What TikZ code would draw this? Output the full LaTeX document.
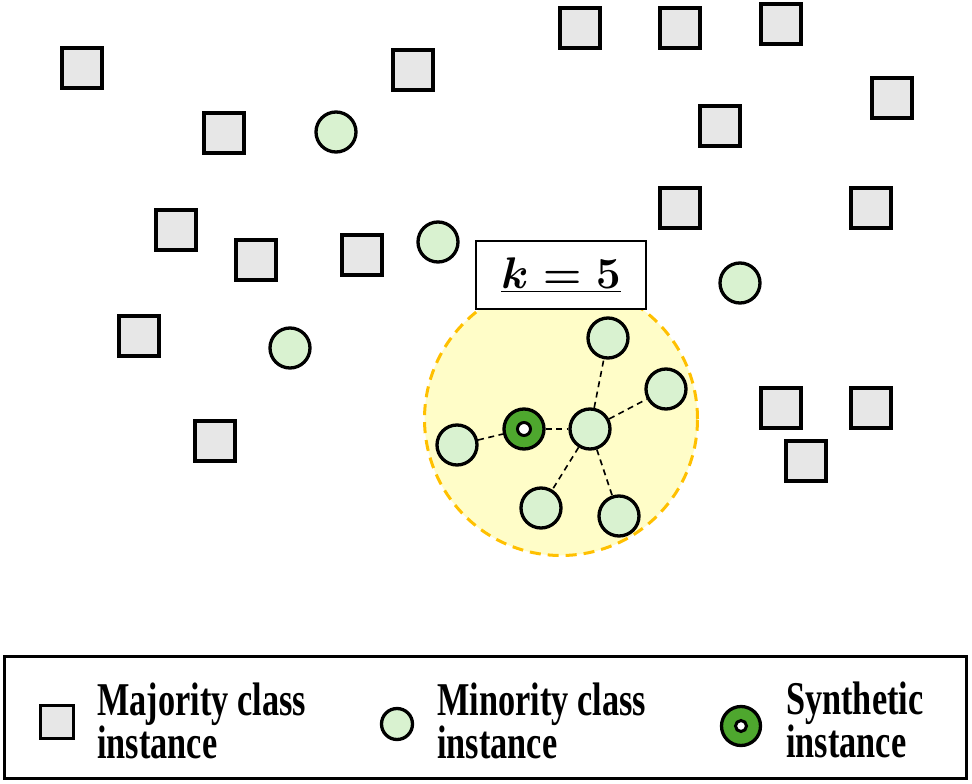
\documentclass[tikz,border=0pt]{standalone}
\usepackage{fontspec}
\usepackage{graphicx}
\newfontfamily\legfont[FakeStretch=0.73]{Liberation Serif}
\definecolor{majgray}{HTML}{E7E7E7}
\definecolor{mingreen}{HTML}{D9F2D0}
\definecolor{syngreen}{HTML}{4EA72E}
\definecolor{hoodfill}{HTML}{FFFDC8}
\definecolor{hoodline}{HTML}{FFC000}
\newcommand{\ktext}{\scalebox{1.78}{\Huge\boldmath$\underline{k = 5}$}}
\newcommand{\legfontsize}{\legfont\bfseries\fontsize{47}{43}\selectfont}
\begin{document}
\begin{tikzpicture}[x=1pt,y=-1pt,
  maj/.style={rectangle, draw=black, line width=3.3pt, fill=majgray, minimum size=40pt, inner sep=0pt},
  mino/.style={circle, draw=black, line width=3.3pt, fill=mingreen, minimum size=40pt, inner sep=0pt},
  synout/.style={circle, draw=black, line width=3.3pt, fill=syngreen, minimum size=40pt, inner sep=0pt},
  synin/.style={circle, draw=black, line width=3pt, fill=white, minimum size=13pt, inner sep=0pt},
  link/.style={draw=black, line width=1.6pt, dash pattern=on 6pt off 4.5pt},
  legtext/.style={anchor=base west, inner sep=0pt, font=\legfontsize}
]
\useasboundingbox (0,0) rectangle (972,784);
\fill[white] (0,0) rectangle (972,784);

% neighbourhood
\node[circle, draw=hoodline, fill=hoodfill, line width=3pt, dash pattern=on 11pt off 7pt, minimum size=273pt, inner sep=0pt] (hood) at (561,419) {};
\node[rectangle, draw=black, line width=1.8pt, fill=white, minimum width=170pt, minimum height=68pt, inner sep=0pt] (kbox) at (561,275) {\ktext};

% majority squares
\node[maj] (s1) at (82,68) {};
\node[maj] (s2) at (224,133) {};
\node[maj] (s3) at (413,70) {};
\node[maj] (s4) at (580,28) {};
\node[maj] (s5) at (680,28) {};
\node[maj] (s6) at (781,24) {};
\node[maj] (s7) at (892,98) {};
\node[maj] (s8) at (720,126) {};
\node[maj] (s9) at (176,230) {};
\node[maj] (s10) at (256,260) {};
\node[maj] (s11) at (362,255) {};
\node[maj] (s12) at (680,208) {};
\node[maj] (s13) at (871,208) {};
\node[maj] (s14) at (139,336) {};
\node[maj] (s15) at (215,441) {};
\node[maj] (s16) at (781,408) {};
\node[maj] (s17) at (871,408) {};
\node[maj] (s18) at (806,461) {};

% minority circles outside
\node[mino] (m1) at (336,132) {};
\node[mino] (m2) at (438,242) {};
\node[mino] (m3) at (740,283) {};
\node[mino] (m4) at (290,348) {};

% neighbourhood circles
\node[mino] (cT) at (608,338) {};
\node[mino] (cR) at (666,389) {};
\node[mino] (cC) at (590,429) {};
\node[mino] (cL) at (457,445) {};
\node[mino] (cBL) at (541,508) {};
\node[mino] (cBR) at (619,516) {};
\node[synout] (syn) at (524,429) {};
\node[synin] (synhole) at (syn.center) {};

% links
\path[link] (cL) -- (syn);
\path[link] (syn) -- (cC);
\path[link] (cC) -- (cT);
\path[link] (cC) -- (cR);
\path[link] (cC) -- (cBL);
\path[link] (cC) -- (cBR);

% legend
\node[rectangle, draw=black, line width=3pt, minimum width=962pt, minimum height=122pt, inner sep=0pt] (legend) at (485.5,717.5) {};
\node[maj, minimum size=33pt] (lmaj) at (57,722) {};
\node[legtext] (lmaj1) at (97,715) {Majority class};
\node[legtext] (lmaj2) at (97,758) {instance};
\node[mino, minimum size=31pt] (lmin) at (397,724) {};
\node[legtext] (lmin1) at (437,715) {Minority class};
\node[legtext] (lmin2) at (437,758) {instance};
\node[synout, minimum size=39pt] (lsyn) at (741,726) {};
\node[synin, minimum size=11pt] (lsynhole) at (lsyn.center) {};
\node[legtext] (lsyn1) at (786,714) {Synthetic};
\node[legtext] (lsyn2) at (786,757) {instance};
\end{tikzpicture}
\end{document}
